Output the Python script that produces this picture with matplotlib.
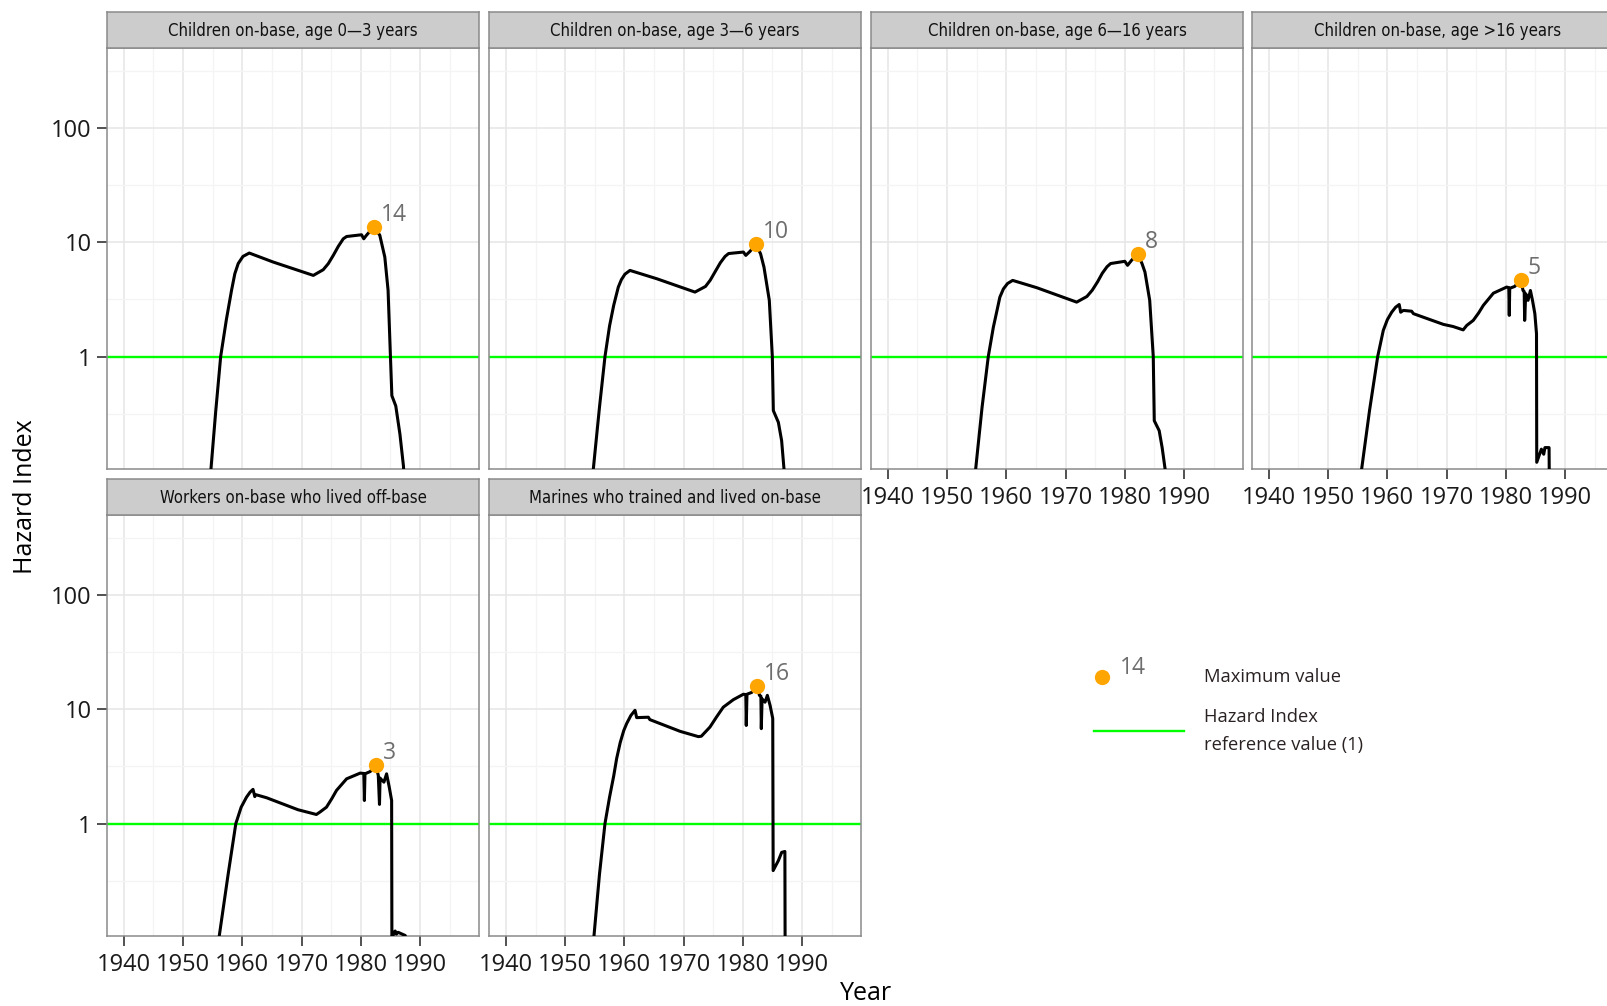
import numpy as np
import matplotlib
matplotlib.use('Agg')
import matplotlib.pyplot as plt
from matplotlib.ticker import FixedLocator, NullFormatter

plt.rcParams['font.family'] = ['Open Sans', 'DejaVu Sans']

titles = ['Children on-base, age 0\u20143 years',
          'Children on-base, age 3\u20146 years',
          'Children on-base, age 6\u201416 years',
          'Children on-base, age >16 years',
          'Workers on-base who lived off-base',
          'Marines who trained and lived on-base']

# hazard index over time
yr1 = [1954.3, 1954.7, 1955.5, 1956.34, 1957.3, 1958.17, 1958.73, 1959.3, 1960.1, 1961.17,
       1965.2, 1971.98, 1973.65, 1974.5, 1975.35, 1976.2, 1977.04, 1977.6, 1980.12, 1980.5,
       1980.96, 1982.2, 1983.2, 1984.05, 1984.6, 1985.0, 1985.24, 1985.9, 1986.6, 1987.2,
       1987.4]
hi1 = [0.07, 0.104, 0.33, 1.0, 2.1, 3.78, 5.3, 6.5, 7.5, 8.03,
       6.7, 5.12, 5.74, 6.48, 7.66, 9.19, 10.7, 11.2, 11.6, 10.7,
       11.5, 13.6, 11.5, 7.4, 3.8, 1.0, 0.455, 0.37, 0.21, 0.11,
       0.07]

yr2 = [1954.4, 1954.76, 1955.8, 1956.73, 1957.5, 1958.2, 1958.98, 1959.5, 1960.1, 1960.95,
       1965.46, 1971.92, 1973.7, 1974.5, 1975.4, 1976.2, 1977.0, 1977.6, 1980.1, 1980.5,
       1981.2, 1982.22, 1983.0, 1983.57, 1984.47, 1984.98, 1985.15, 1986.0, 1986.55, 1986.95,
       1987.2]
hi2 = [0.07, 0.104, 0.36, 1.0, 1.85, 2.8, 4.05, 4.7, 5.25, 5.66,
       4.79, 3.66, 4.1, 4.65, 5.6, 6.6, 7.5, 7.95, 8.19, 7.66,
       8.3, 9.57, 7.9, 6.05, 3.1, 1.0, 0.337, 0.266, 0.184, 0.104,
       0.07]

yr3 = [1954.5, 1954.82, 1955.9, 1956.95, 1957.8, 1958.4, 1958.9, 1959.5, 1960.2, 1961.07,
       1965.12, 1971.87, 1973.6, 1974.5, 1975.4, 1976.2, 1977.0, 1977.6, 1980.0, 1980.46,
       1981.1, 1982.16, 1982.9, 1983.4, 1984.2, 1984.8, 1984.97, 1985.8, 1986.3, 1986.8,
       1987.1]
hi3 = [0.07, 0.104, 0.36, 1.0, 1.8, 2.5, 3.3, 3.9, 4.35, 4.63,
       4.0, 2.99, 3.35, 3.8, 4.5, 5.35, 6.1, 6.5, 6.8, 6.27,
       6.9, 7.93, 6.5, 5.47, 3.1, 1.0, 0.275, 0.225, 0.16, 0.104,
       0.07]

yr4 = [1955.3, 1955.66, 1957.0, 1958.37, 1959.31, 1960.0, 1960.73, 1961.4, 1962.0, 1962.25,
       1962.7, 1964.1, 1964.4, 1969.46, 1971.1, 1972.8, 1973.4, 1974.5, 1975.4, 1976.2,
       1977.9, 1980.15, 1980.5, 1980.58, 1980.66, 1981.5, 1982.52, 1982.9, 1983.1, 1983.18,
       1983.36, 1983.75, 1984.15, 1984.5, 1984.9, 1985.18, 1985.22, 1986.0, 1986.4, 1986.6,
       1987.3, 1987.35]
hi4 = [0.07, 0.104, 0.34, 1.0, 1.69, 2.1, 2.44, 2.7, 2.85, 2.44,
       2.53, 2.49, 2.37, 1.91, 1.83, 1.71, 1.87, 2.07, 2.4, 2.8,
       3.58, 4.05, 4.0, 2.29, 3.95, 4.1, 4.7, 3.78, 3.7, 2.07,
       3.54, 3.1, 3.78, 3.1, 2.37, 1.58, 0.119, 0.155, 0.14, 0.16,
       0.16, 0.07]

yr5 = [1955.7, 1956.1, 1957.6, 1958.9, 1959.8, 1960.7, 1961.3, 1961.8, 1962.1, 1962.25,
       1964.1, 1969.4, 1972.5, 1973.1, 1974.2, 1975.1, 1975.9, 1977.6, 1979.9, 1980.5,
       1980.6, 1980.7, 1981.6, 1982.5, 1982.95, 1983.15, 1983.25, 1983.35, 1983.9, 1984.35,
       1984.8, 1985.2, 1985.25, 1985.5, 1985.8, 1986.0, 1986.3, 1987.5, 1987.6]
hi5 = [0.07, 0.104, 0.36, 1.0, 1.39, 1.7, 1.88, 1.99, 1.72, 1.79,
       1.68, 1.32, 1.2, 1.26, 1.39, 1.65, 1.95, 2.46, 2.76, 2.74,
       1.59, 2.72, 2.85, 3.26, 2.63, 1.47, 2.5, 2.46, 2.3, 2.72,
       2.08, 1.59, 0.08, 0.11, 0.115, 0.108, 0.112, 0.105, 0.08]

yr6 = [1954.5, 1954.87, 1955.8, 1956.73, 1957.5, 1958.2, 1958.7, 1959.3, 1959.9, 1960.4,
       1961.1, 1961.8, 1962.08, 1964.05, 1964.3, 1969.4, 1972.5, 1973.0, 1974.45, 1975.6,
       1976.7, 1978.4, 1980.1, 1980.5, 1980.58, 1980.7, 1981.5, 1982.45, 1982.8, 1983.05,
       1983.12, 1983.25, 1983.75, 1984.14, 1984.6, 1985.05, 1985.12, 1986.0, 1986.56, 1987.1,
       1987.15]
hi6 = [0.07, 0.104, 0.36, 1.0, 1.7, 2.6, 3.7, 5.1, 6.5, 7.5,
       8.8, 9.77, 8.43, 8.5, 8.1, 6.4, 5.75, 5.8, 6.97, 8.6,
       10.4, 12.1, 13.5, 13.4, 7.2, 13.5, 14.0, 15.9, 13.2, 13.0,
       6.75, 12.3, 11.5, 13.2, 10.8, 8.3, 0.388, 0.474, 0.56, 0.57,
       0.05]

peak_yr = [1982.2, 1982.22, 1982.16, 1982.52, 1982.5, 1982.45]
peak_hi = [13.6, 9.57, 7.93, 4.7, 3.26, 15.9]
peak_lab = ['14', '10', '8', '5', '3', '16']

series = [(yr1, hi1), (yr2, hi2), (yr3, hi3), (yr4, hi4), (yr5, hi5), (yr6, hi6)]
spots = [(0, 0), (0, 1), (0, 2), (0, 3), (1, 0), (1, 1)]

W, H = 1608, 1006
fig = plt.figure(figsize=(W / 100, H / 100), dpi=100)


def px(x, y, w, h):
    return [x / W, 1 - (y + h) / H, w / W, h / H]


col_left = [107, 489, 871, 1252]
row_top = [48, 515]
pw, ph, sh = 372, 421, 36

for i, (r, c) in enumerate(spots):
    ax = fig.add_axes(px(col_left[c], row_top[r], pw, ph))
    ax.set_yscale('log')
    ax.set_xlim(1937.15, 1999.95)
    ax.set_ylim(10 ** -0.983, 10 ** 2.697)
    ax.xaxis.set_major_locator(FixedLocator([1940, 1950, 1960, 1970, 1980, 1990]))
    ax.xaxis.set_minor_locator(FixedLocator([1945, 1955, 1965, 1975, 1985, 1995]))
    ax.yaxis.set_major_locator(FixedLocator([1, 10, 100]))
    ax.yaxis.set_minor_locator(FixedLocator([10 ** -0.5, 10 ** 0.5, 10 ** 1.5, 10 ** 2.5]))
    ax.yaxis.set_minor_formatter(NullFormatter())
    ax.set_yticklabels(['1', '10', '100'])
    ax.set_xticklabels(['1940', '1950', '1960', '1970', '1980', '1990'])
    ax.grid(which='major', color='#E6E6E6', lw=1.1)
    ax.grid(which='minor', color='#F4F4F4', lw=0.9)
    ax.set_axisbelow(True)
    ax.tick_params(which='minor', length=0)
    ax.tick_params(which='major', direction='out', length=7, width=1.2, color='#333333',
                   labelsize=17, labelcolor='#1a1a1a', pad=4)
    show_x = (r == 1) or (c >= 2)
    ax.tick_params(axis='x', bottom=show_x, labelbottom=show_x, pad=5)
    ax.tick_params(axis='y', left=(c == 0), labelleft=(c == 0))
    for s in ax.spines.values():
        s.set_color('#8a8a8a')
        s.set_linewidth(1.1)

    ax.axhline(1, color='#00FF00', lw=1.7, zorder=2)
    yr, hi = series[i]
    ax.plot(yr, hi, color='black', lw=2.2, zorder=3, solid_joinstyle='round')
    ax.plot(peak_yr[i], peak_hi[i], 'o', color='#FFA500', ms=11, mec='none', zorder=4)
    ax.annotate(peak_lab[i], (peak_yr[i], peak_hi[i]), xytext=(7, 12),
                textcoords='offset pixels', ha='left', va='center',
                fontsize=16.5, color='#6e6e6e', zorder=5)

    sax = fig.add_axes(px(col_left[c], row_top[r] - sh, pw, sh))
    sax.set_facecolor('#CCCCCC')
    sax.set_xticks([])
    sax.set_yticks([])
    for s in sax.spines.values():
        s.set_color('#8a8a8a')
        s.set_linewidth(1.1)
    sax.text(0.5, 0.47, titles[i], transform=sax.transAxes, ha='center', va='center',
             fontsize=12, color='#111111', family='DejaVu Sans', fontstretch='condensed')

fig.text(26 / W, 1 - 497 / H, 'Hazard Index', rotation=90, ha='center', va='center',
         fontsize=18, color='black')
fig.text(866 / W, 1 - 994 / H, 'Year', ha='center', va='center', fontsize=18, color='black')

# legend
lax = fig.add_axes([0, 0, 1, 1], facecolor='none')
lax.set_xlim(0, W)
lax.set_ylim(H, 0)
lax.axis('off')
lax.plot([1101.7], [677], 'o', color='#FFA500', ms=11, mec='none')
lax.text(1120, 668, '14', ha='left', va='center', fontsize=16.5, color='#6e6e6e')
lax.plot([1094, 1184], [731, 731], color='#00FF00', lw=1.7)
lax.text(1204, 677, 'Maximum value', ha='left', va='center', fontsize=13.2, color='#2a2222')
lax.text(1204, 731, 'Hazard Index\nreference value (1)', ha='left', va='center',
         fontsize=13.2, color='#2a2222', linespacing=1.65)

fig.savefig('out.png', dpi=100)
